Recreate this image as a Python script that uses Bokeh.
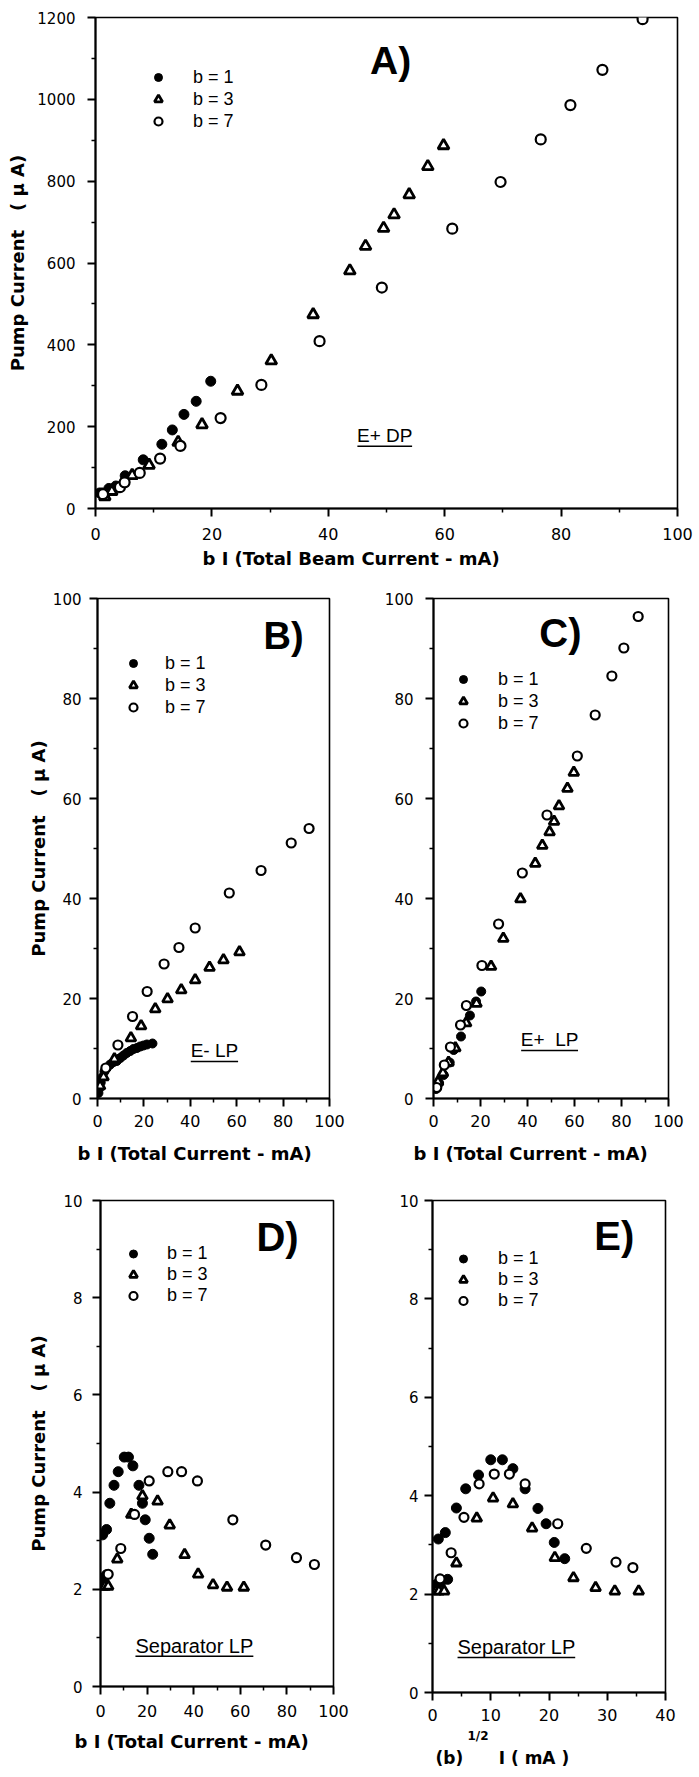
from bokeh.plotting import figure
from bokeh.models import Range1d, FixedTicker, Legend, LegendItem, Title
from bokeh.layouts import column, row
from bokeh.embed import file_html
from bokeh.resources import INLINE
from bokeh.core.properties import value

NB = "\u00a0"

# ---------------- data ----------------
legend_labels = ["b = 1", "b = 3", "b = 7"]

# Panel A  (E+ DP)
a_b1_x = [0.7, 1.2, 2.3, 3.5, 5.1, 8.2, 11.4, 13.2, 15.2, 17.3, 19.8]
a_b1_y = [38, 38, 49, 55, 80, 119, 157, 192, 230, 262, 311]
a_b3_x = [1.6, 2.8, 6.3, 9.2, 14.2, 18.3, 24.4, 30.2, 37.4, 43.7, 46.4, 49.5, 51.3, 53.9, 57.1, 59.8]
a_b3_y = [29, 42, 81, 106, 162, 205, 287, 361, 474, 581, 641, 685, 718, 767, 836, 887]
a_b7_x = [1.3, 4.2, 5.0, 7.6, 11.1, 14.6, 21.5, 28.5, 38.5, 49.2, 61.3, 69.6, 76.5, 81.6, 87.1, 94.0]
a_b7_y = [35, 52, 64, 87, 122, 153, 221, 302, 409, 540, 684, 798, 902, 986, 1072, 1196]

# Panel B  (E- LP)
b_b1_x = [0.4, 0.9, 1.4, 2.2, 3.0, 4.0, 5.5, 6.9, 8.3, 9.8, 11.2, 12.6, 14.1, 15.5, 17.0, 18.4, 19.8, 21.3, 23.7]
b_b1_y = [1.1, 2.1, 3.2, 4.3, 5.4, 6.1, 6.8, 7.3, 7.5, 8.1, 8.6, 9.1, 9.5, 9.9, 10.1, 10.4, 10.6, 10.8, 11.0]
b_b3_x = [1.1, 2.6, 7.3, 14.4, 18.8, 24.9, 30.2, 36.1, 42.1, 48.3, 54.3, 61.2]
b_b3_y = [2.5, 4.3, 7.9, 12.1, 14.5, 17.9, 19.9, 21.7, 23.7, 26.2, 27.7, 29.3]
b_b7_x = [3.6, 8.8, 15.1, 21.4, 28.7, 35.1, 42.1, 56.8, 70.5, 83.5, 91.2]
b_b7_y = [6.1, 10.7, 16.4, 21.4, 26.9, 30.2, 34.1, 41.1, 45.6, 51.1, 54.0]

# Panel C  (E+ LP)
c_b1_x = [1.1, 2.4, 4.3, 6.9, 8.6, 11.7, 15.5, 18.1, 20.3]
c_b1_y = [1.9, 3.1, 4.7, 7.2, 9.7, 12.4, 16.6, 19.4, 21.4]
c_b3_x = [1.9, 4.0, 6.4, 9.3, 13.9, 18.3, 24.5, 29.7, 37.0, 43.3, 46.3, 49.4, 51.3, 53.4, 57.0, 59.7]
c_b3_y = [3.3, 5.1, 7.2, 10.1, 15.1, 19.0, 26.4, 32.0, 39.9, 47.0, 50.6, 53.3, 55.4, 58.5, 62.0, 65.2]
c_b7_x = [1.4, 4.6, 7.2, 11.5, 14.0, 20.6, 27.7, 37.8, 48.3, 61.2, 68.8, 75.9, 81.0, 87.1]
c_b7_y = [2.2, 6.7, 10.3, 14.7, 18.6, 26.6, 34.9, 45.1, 56.7, 68.5, 76.7, 84.5, 90.1, 96.4]

# Panel D  (Separator LP vs b I)
d_b1_x = [0.7, 1.4, 2.6, 0.9, 2.6, 4.0, 5.8, 7.6, 10.2, 12.0, 13.9, 16.5, 18.0, 19.2, 20.9, 22.4]
d_b1_y = [2.2, 2.24, 2.3, 3.12, 3.23, 3.77, 4.14, 4.42, 4.72, 4.72, 4.54, 4.14, 3.77, 3.43, 3.05, 2.72]
d_b3_x = [1.1, 1.9, 3.3, 7.2, 13.2, 18.0, 24.5, 29.7, 36.1, 41.9, 48.3, 54.3, 61.5]
d_b3_y = [2.06, 2.06, 2.06, 2.62, 3.54, 3.92, 3.81, 3.32, 2.71, 2.31, 2.09, 2.04, 2.04]
d_b7_x = [3.3, 8.7, 14.6, 20.9, 28.9, 34.8, 41.6, 56.8, 70.9, 84.1, 91.8]
d_b7_y = [2.31, 2.84, 3.54, 4.23, 4.42, 4.42, 4.23, 3.43, 2.91, 2.65, 2.51]

# Panel E  (Separator LP vs b^1/2 I)
e_b1_x = [0.7, 1.4, 2.6, 1.0, 2.2, 4.1, 5.7, 7.9, 10.0, 12.0, 13.8, 15.9, 18.1, 19.5, 20.9, 22.7]
e_b1_y = [2.2, 2.24, 2.3, 3.12, 3.25, 3.75, 4.14, 4.42, 4.73, 4.73, 4.55, 4.14, 3.74, 3.43, 3.05, 2.72]
e_b3_x = [0.6, 1.1, 2.0, 4.1, 7.6, 10.4, 13.8, 17.1, 21.0, 24.2, 28.0, 31.3, 35.4]
e_b3_y = [2.06, 2.06, 2.06, 2.63, 3.54, 3.95, 3.83, 3.34, 2.74, 2.33, 2.13, 2.06, 2.06]
e_b7_x = [1.3, 3.2, 5.4, 8.0, 10.6, 13.2, 15.9, 21.5, 26.4, 31.5, 34.4]
e_b7_y = [2.31, 2.84, 3.56, 4.24, 4.44, 4.44, 4.24, 3.43, 2.93, 2.65, 2.54]

x_ticks_100 = [0, 20, 40, 60, 80, 100]
x_minor_100 = [10, 30, 50, 70, 90]
x_ticks_40 = [0, 10, 20, 30, 40]
x_minor_40 = [5, 15, 25, 35]
y_ticks_1200 = [0, 200, 400, 600, 800, 1000, 1200]
y_minor_1200 = [100, 300, 500, 700, 900, 1100]
y_ticks_100 = [0, 20, 40, 60, 80, 100]
y_minor_100 = [10, 30, 50, 70, 90]
y_ticks_10 = [0, 2, 4, 6, 8, 10]
y_minor_10 = [1, 3, 5, 7, 9]

Y_TITLE = "Pump Current" + NB * 3 + "(" + NB + "\u00b5" + NB + "A)"
X_TITLE_A = "b I  (Total Beam Current - mA)"
X_TITLE = "b I  (Total Current - mA)"
E_TITLE = "(b)" + NB * 6 + "I  ( mA )"
E_SUP = "1/2"

TICK_FONT = "DejaVu Sans"
TITLE_FONT = "DejaVu Sans"
NOTE_FONT = "Liberation Sans"


def panel(xr, yr, xt, xm, yt, ym, fw, fh, bl, br, bt, bb,
          ystand, xstand, ylabel=None, ylab_stand=5):
    p = figure(frame_width=fw, frame_height=fh,
               x_range=Range1d(*xr), y_range=Range1d(*yr),
               output_backend="svg", toolbar_location=None,
               min_border_left=bl, min_border_right=br,
               min_border_top=bt, min_border_bottom=bb)
    p.xgrid.visible = False
    p.ygrid.visible = False
    p.background_fill_color = "white"
    p.border_fill_color = "white"
    p.outline_line_color = "black"
    p.outline_line_width = 1.6
    p.xaxis.ticker = FixedTicker(ticks=xt, minor_ticks=xm)
    p.yaxis.ticker = FixedTicker(ticks=yt, minor_ticks=ym)
    for ax in (p.xaxis, p.yaxis):
        ax.axis_line_width = 2
        ax.axis_line_color = "black"
        ax.major_tick_line_width = 2
        ax.major_tick_line_color = "black"
        ax.major_tick_out = 8
        ax.major_tick_in = 0
        ax.minor_tick_line_width = 1.5
        ax.minor_tick_line_color = "black"
        ax.minor_tick_out = 4
        ax.minor_tick_in = 0
        ax.major_label_text_font = TICK_FONT
        ax.major_label_text_color = "black"
    p.yaxis.major_label_text_font_size = "15px"
    p.xaxis.major_label_text_font_size = "16px"
    p.yaxis.major_label_standoff = ystand
    p.xaxis.major_label_standoff = xstand
    if ylabel:
        p.yaxis.axis_label = ylabel
        p.yaxis.axis_label_text_font = TITLE_FONT
        p.yaxis.axis_label_text_font_style = "bold"
        p.yaxis.axis_label_text_font_size = "18px"
        p.yaxis.axis_label_text_color = "black"
        p.yaxis.axis_label_standoff = ylab_stand
    return p


def add_series(p, x1, y1, x3, y3, x7, y7, s1, s3, s7, fh, marker_dx, text_dx, first_dy, rowh):
    r1 = p.scatter(x1, y1, marker="circle", size=s1, fill_color="black", line_color="black", line_width=1)
    r3 = p.scatter(x3, y3, marker="triangle", size=s3, fill_color="white", line_color="black", line_width=2.8)
    r7 = p.scatter(x7, y7, marker="circle", size=s7, fill_color="white", line_color="black", line_width=2.2)
    gw = 20
    H = 3 * rowh
    vx = marker_dx - gw / 2
    vy = fh - first_dy + rowh / 2 - H
    leg = Legend(items=[LegendItem(label=legend_labels[0], renderers=[r1]),
                        LegendItem(label=legend_labels[1], renderers=[r3]),
                        LegendItem(label=legend_labels[2], renderers=[r7])],
                 location=(vx, vy))
    leg.glyph_width = gw
    leg.glyph_height = rowh
    leg.label_height = rowh
    leg.label_standoff = int(text_dx - marker_dx - gw / 2)
    leg.spacing = 0
    leg.padding = 0
    leg.margin = 0
    leg.border_line_alpha = 0
    leg.background_fill_alpha = 0
    leg.label_text_font = NOTE_FONT
    leg.label_text_font_size = "18px"
    leg.label_text_color = "black"
    p.add_layout(leg, "center")


def add_note(p, x, y, txt, size, x0, x1, yu):
    p.text(x=[x], y=[y], text=[txt], text_font=value(NOTE_FONT), text_font_size=size,
           text_align="center", text_baseline="middle", text_color="black")
    p.segment(x0=[x0], y0=[yu], x1=[x1], y1=[yu], line_color="black", line_width=1.5)


def add_tag(p, x, y, txt, size):
    p.text(x=[x], y=[y], text=[txt], text_font=value("Liberation Sans"), text_font_style="bold",
           text_font_size=size, text_align="center", text_baseline="middle", text_color="black")


def add_xtitle(p, txt, offset, standoff, size="18px"):
    t = Title(text=txt, align="left", offset=offset, standoff=standoff,
              text_font=TITLE_FONT, text_font_style="bold", text_font_size=size,
              text_color="black")
    p.add_layout(t, "below")


# ---------------- Panel A ----------------
pa = panel((0, 100), (0, 1200), x_ticks_100, x_minor_100, y_ticks_1200, y_minor_1200,
           582, 491, 95, 16, 17, 70, 12, 11, ylabel=Y_TITLE, ylab_stand=6)
add_series(pa, a_b1_x, a_b1_y, a_b3_x, a_b3_y, a_b7_x, a_b7_y, 10, 11, 10, 491, 63, 98, 60, 22)
add_tag(pa, 50.7, 1095, "A)", "39px")
add_note(pa, 49.7, 178, "E+ DP", "19px", 45.0, 54.4, 152)
add_xtitle(pa, X_TITLE_A, 107, 7)

# ---------------- Panel B ----------------
pb = panel((0, 100), (0, 100), x_ticks_100, x_minor_100, y_ticks_100, y_minor_100,
           232, 500, 97, 20, 20, 80, 8, 8, ylabel=Y_TITLE, ylab_stand=1)
add_series(pb, b_b1_x, b_b1_y, b_b3_x, b_b3_y, b_b7_x, b_b7_y, 9, 10, 9, 500, 36, 68, 65, 22)
add_tag(pb, 80.2, 92.6, "B)", "38px")
add_note(pb, 50.4, 9.6, "E- LP", "19px", 40.2, 60.6, 7.4)
add_xtitle(pb, X_TITLE, -20, 23)

# ---------------- Panel C ----------------
pc = panel((0, 100), (0, 100), x_ticks_100, x_minor_100, y_ticks_100, y_minor_100,
           235, 500, 84, 18, 18, 82, 12, 8)
add_series(pc, c_b1_x, c_b1_y, c_b3_x, c_b3_y, c_b7_x, c_b7_y, 9, 10, 9, 500, 30, 65, 81, 22)
add_tag(pc, 54.0, 93.2, "C)", "40px")
add_note(pc, 49.4, 11.8, "E+" + NB + NB + "LP", "19px", 37.3, 61.5, 9.6)
add_xtitle(pc, X_TITLE, -20, 23)

# ---------------- Panel D ----------------
pd_ = panel((0, 100), (0, 10), x_ticks_100, x_minor_100, y_ticks_10, y_minor_10,
            233, 486, 100, 20, 22, 91, 10, 10, ylabel=Y_TITLE, ylab_stand=11)
add_series(pd_, d_b1_x, d_b1_y, d_b3_x, d_b3_y, d_b7_x, d_b7_y, 10, 10, 9, 486, 33, 67, 53, 21)
add_tag(pd_, 76.0, 9.24, "D)", "40px")
add_note(pd_, 40.3, 0.84, "Separator LP", "20px", 15.0, 65.6, 0.62)
add_xtitle(pd_, X_TITLE, -26, 19)

# ---------------- Panel E ----------------
pe = panel((0, 40), (0, 10), x_ticks_40, x_minor_40, y_ticks_10, y_minor_10,
           233, 492, 79, 18, 16, 91, 6, 8)
add_series(pe, e_b1_x, e_b1_y, e_b3_x, e_b3_y, e_b7_x, e_b7_y, 10, 10, 9, 492, 31, 66, 58, 21)
add_tag(pe, 31.2, 9.28, "E)", "40px")
add_note(pe, 14.4, 0.93, "Separator LP", "20px", 4.3, 24.5, 0.71)
add_xtitle(pe, E_SUP, 35, 6, "12px")
add_xtitle(pe, E_TITLE, 3, 0, "17px")

layout = column(pa, row(pb, pc), row(pd_, pe))

open("out.html", "w").write(file_html(layout, INLINE))
